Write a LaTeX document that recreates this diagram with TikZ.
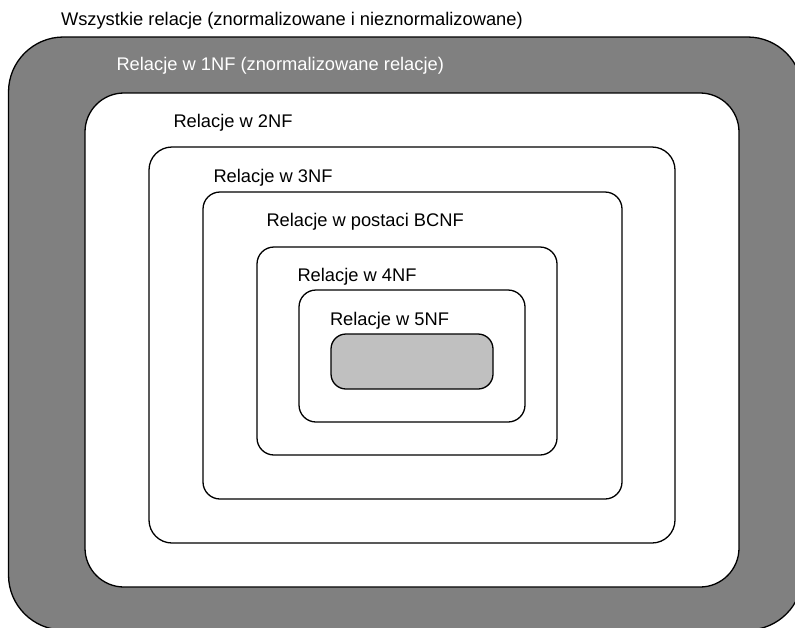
\documentclass[tikz,border=0pt]{standalone}
\usepackage{fontspec}
\setmainfont{Liberation Sans}
\definecolor{outergray}{HTML}{808080}
\definecolor{coregray}{HTML}{C0C0C0}
\begin{document}
\begin{tikzpicture}[x=1pt,y=-1pt,
  nfbox/.style={draw=black,line width=1.3pt,fill=white,rectangle,
    inner sep=0pt,outer sep=0pt,anchor=north west},
  lbl/.style={anchor=base west,inner sep=0pt,outer sep=0pt,
    font=\fontsize{18.3}{22}\selectfont,text=black}]
\useasboundingbox (0,0) rectangle (795,627);
\clip (0,0) rectangle (795,627);
% nested normal-form classes, outermost first
\node[nfbox,fill=outergray,rounded corners=55pt,minimum width=794pt,minimum height=593pt] (all) at (8.5,37) {};
\node[nfbox,rounded corners=39pt,minimum width=654pt,minimum height=494pt] (nf2) at (85,93) {};
\node[nfbox,rounded corners=23pt,minimum width=526pt,minimum height=396pt] (nf3) at (149,147) {};
\node[nfbox,rounded corners=17pt,minimum width=419pt,minimum height=307pt] (bcnf) at (203,192) {};
\node[nfbox,rounded corners=17pt,minimum width=300pt,minimum height=208pt] (nf4) at (257,247) {};
\node[nfbox,rounded corners=17pt,minimum width=226pt,minimum height=132pt] (nf5) at (299,290) {};
\node[nfbox,fill=coregray,rounded corners=15pt,minimum width=162pt,minimum height=55pt] (core) at (331,334) {};
% labels
\node[lbl] (tall) at (61,25.7) {Wszystkie relacje (znormalizowane i nieznormalizowane)};
\node[lbl,text=white] (t1) at (116.5,70) {Relacje w 1NF (znormalizowane relacje)};
\node[lbl] (t2) at (173.5,127) {Relacje w 2NF};
\node[lbl] (t3) at (213.5,182) {Relacje w 3NF};
\node[lbl] (tb) at (266.5,226) {Relacje w postaci BCNF};
\node[lbl] (t4) at (297.5,281) {Relacje w 4NF};
\node[lbl] (t5) at (330,325) {Relacje w 5NF};
\end{tikzpicture}
\end{document}
